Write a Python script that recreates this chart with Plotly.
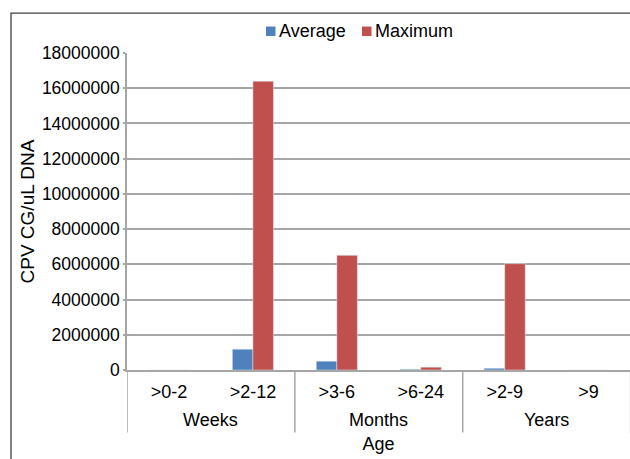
import plotly.graph_objects as go

# Age bands, grouped by unit
age_bands = [">0-2", ">2-12", ">3-6", ">6-24", ">2-9", ">9"]
age_units = ["Weeks", "Months", "Years"]
series_names = ["Average", "Maximum"]
avg_copies = [0, 1180000, 500000, 45000, 100000, 0]
max_copies = [0, 16400000, 6510000, 160000, 6040000, 0]
y_ticks = list(range(0, 18000001, 2000000))

FONT = "Liberation Sans, Arial, sans-serif"
GRID = "#a6a6a6"
BLUE = "#4f81bd"
RED = "#c0504d"
TXT = "#000000"
FS = 18

# plot area geometry (px)
PL, PT, PB, PW = 127, 53, 370.5, 503
PH = PB - PT


def px_x(v):
    return (v - PL) / PW


def px_y(v):
    return (PB - v) / PH


x_pos = list(range(len(age_bands)))

fig = go.Figure()
fig.add_trace(go.Bar(x=x_pos, y=avg_copies, name=series_names[0], marker_color=BLUE))
fig.add_trace(go.Bar(x=x_pos, y=max_copies, name=series_names[1], marker_color=RED))

# category width in px: the plot width covers slightly under 6 bands
x_max = -0.5 + PW / 83.93

fig.update_layout(
    width=630,
    height=459,
    margin=dict(l=PL, r=0, t=PT, b=459 - PB),
    paper_bgcolor="white",
    plot_bgcolor="white",
    font=dict(family=FONT, size=FS, color=TXT),
    barmode="group",
    bargap=0.51,
    bargroupgap=0,
    showlegend=False,
    xaxis=dict(
        range=[-0.5, x_max],
        tickmode="array",
        tickvals=x_pos,
        ticktext=age_bands,
        ticks="",
        showgrid=False,
        showline=True,
        linecolor=GRID,
        linewidth=1.5,
        zeroline=False,
        ticklabelstandoff=5,
        title=dict(text="Age", standoff=36, font=dict(family=FONT, size=FS)),
        automargin=False,
    ),
    yaxis=dict(
        range=[0, 18000000],
        tickmode="array",
        tickvals=y_ticks,
        ticktext=[str(v) for v in y_ticks],
        tickfont=dict(family=FONT, size=17.5, color=TXT),
        ticks="outside",
        ticklen=2,
        tickcolor=GRID,
        tickwidth=1.5,
        showgrid=True,
        gridcolor=GRID,
        gridwidth=1.5,
        showline=True,
        linecolor=GRID,
        linewidth=1.5,
        zeroline=False,
        title=dict(text="CPV CG/uL DNA", standoff=2, font=dict(family=FONT, size=19)),
        automargin=False,
    ),
)

# legend: coloured squares with series names, above the plot
legend_items = [(series_names[0], BLUE, 266), (series_names[1], RED, 362)]
for name, color, left in legend_items:
    fig.add_shape(
        type="rect", xref="paper", yref="paper",
        x0=px_x(left), x1=px_x(left + 9.5),
        y0=px_y(36), y1=px_y(26.5),
        fillcolor=color, line=dict(width=0),
    )
    fig.add_annotation(
        x=px_x(left + 12.5), xref="paper",
        y=px_y(31), yref="paper",
        text=name, showarrow=False,
        font=dict(family=FONT, size=FS, color=TXT),
        xanchor="left", yanchor="middle",
        borderpad=0, xshift=-1,
    )

# group dividers below the axis
div_bottom = px_y(433)
for xb in [-0.5, 1.5, 3.5, 5.5]:
    fig.add_shape(
        type="line", xref="x", yref="paper",
        x0=xb, x1=xb, y0=0, y1=div_bottom,
        line=dict(color=GRID, width=1.5),
        layer="above",
    )

# group labels
for i, unit in enumerate(age_units):
    fig.add_annotation(
        x=2 * i + 0.5, xref="x",
        y=px_y(421), yref="paper",
        text=unit, showarrow=False,
        font=dict(family=FONT, size=FS, color=TXT),
        xanchor="center", yanchor="middle",
    )

# outer chart frame
fig.add_shape(
    type="rect", xref="paper", yref="paper",
    x0=px_x(11), x1=1.2,
    y0=-0.5, y1=px_y(13),
    line=dict(color="#404040", width=1.3),
    fillcolor="rgba(0,0,0,0)",
    layer="above",
)

fig.write_html("out.html")
